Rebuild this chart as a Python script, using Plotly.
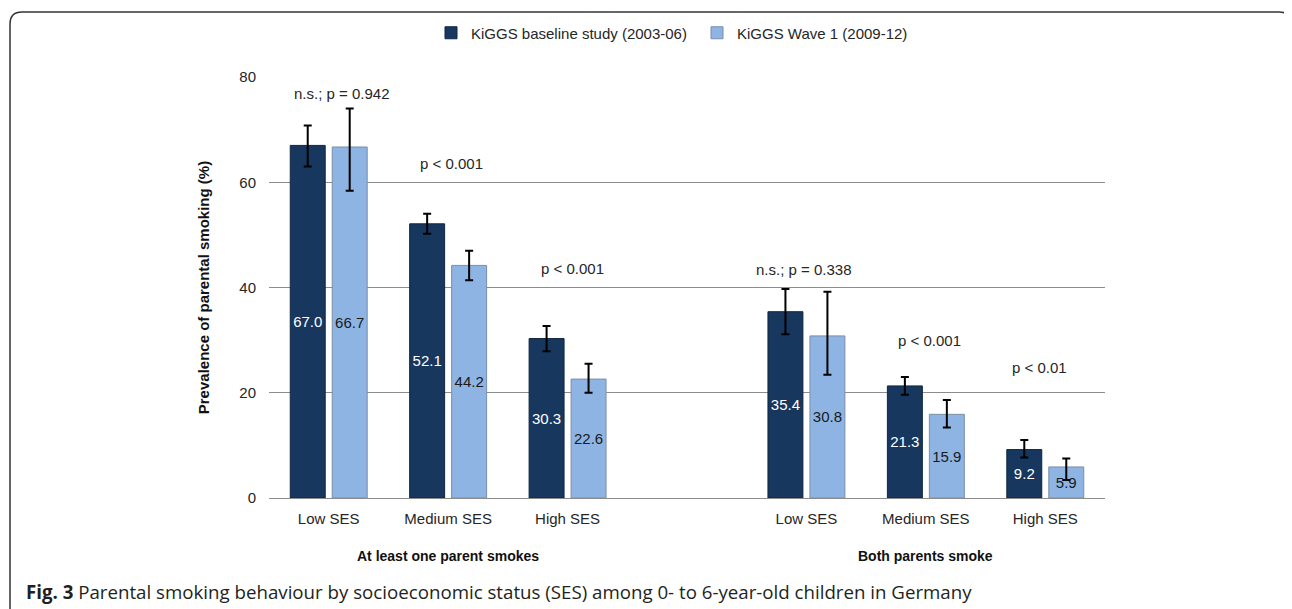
import plotly.graph_objects as go

# ---------------- data ----------------
ses_labels = ["Low SES", "Medium SES", "High SES"]
group_labels = ["At least one parent smokes", "Both parents smoke"]
series_names = ["KiGGS baseline study (2003-06)", "KiGGS Wave 1 (2009-12)"]

baseline = [67.0, 52.1, 30.3, 35.4, 21.3, 9.2]
baseline_lo = [63.0, 50.2, 27.9, 31.1, 19.6, 7.7]
baseline_hi = [70.8, 54.0, 32.7, 39.7, 23.0, 11.0]

wave1 = [66.7, 44.2, 22.6, 30.8, 15.9, 5.9]
wave1_lo = [58.4, 41.4, 20.0, 23.4, 13.4, 3.4]
wave1_hi = [74.0, 47.0, 25.5, 39.2, 18.6, 7.5]

p_labels = ["n.s.; p = 0.942", "p < 0.001", "p < 0.001",
            "n.s.; p = 0.338", "p < 0.001", "p < 0.01"]

y_ticks = [0, 20, 40, 60, 80]
caption_bold = "Fig. 3"
caption_text = ("Parental smoking behaviour by socioeconomic status (SES) "
                "among 0- to 6-year-old children in Germany")
y_title = "Prevalence of parental smoking (%)"

# ---------------- layout helpers ----------------
# category positions: 3 SES groups, an empty slot, 3 SES groups
xpos = [0, 1, 2, 4, 5, 6]
tick_text = ses_labels + ses_labels
group_x = [1, 5]
p_label_y = [76.8, 63.6, 43.6, 43.5, 29.9, 24.8]
p_label_xshift = [13, 3, 5, -2, 4, -6]

OFF = 8                      # page body margin of the html page
W_PX, H_PX = 1292 - OFF, 609 - OFF
PLOT_X0, PLOT_X1 = 269, 1105  # page pixels
PLOT_Y0, PLOT_Y1 = 77, 498
L = PLOT_X0 - OFF
T = PLOT_Y0 - OFF
plot_w = PLOT_X1 - PLOT_X0
plot_h = PLOT_Y1 - PLOT_Y0
R = W_PX - L - plot_w
B = H_PX - T - plot_h


def px_x(x):
    return (x - PLOT_X0) / plot_w


def px_y(y):
    return (PLOT_Y1 - y) / plot_h


DARK = "#17375E"
LIGHT = "#8DB4E2"
FONT = "Liberation Sans, Arial, sans-serif"

fig = go.Figure()


def err(vals, lo, hi):
    return dict(type="data", symmetric=False,
                array=[h - v for v, h in zip(vals, hi)],
                arrayminus=[v - l for v, l in zip(vals, lo)],
                color="black", thickness=2, width=4)


fig.add_trace(go.Bar(
    x=xpos, y=baseline, name=series_names[0],
    marker=dict(color=DARK, line=dict(color="#0f2742", width=1)),
    error_y=err(baseline, baseline_lo, baseline_hi),
    text=[f"{v:.1f}" for v in baseline], textposition="inside",
    insidetextanchor="middle", textangle=0,
    textfont=dict(color="white", size=15, family=FONT),
))
fig.add_trace(go.Bar(
    x=xpos, y=wave1, name=series_names[1],
    marker=dict(color=LIGHT, line=dict(color="#7a8ea8", width=1)),
    error_y=err(wave1, wave1_lo, wave1_hi),
    text=[f"{v:.1f}" for v in wave1], textposition="inside",
    insidetextanchor="middle", textangle=0,
    textfont=dict(color="#1a1a1a", size=15, family=FONT),
))

annotations = []
for xp, lab, yy, xs in zip(xpos, p_labels, p_label_y, p_label_xshift):
    annotations.append(dict(x=xp, y=yy, xref="x", yref="y", text=lab,
                            showarrow=False, xshift=xs,
                            font=dict(size=15, color="#262626", family=FONT)))
for gx, gl in zip(group_x, group_labels):
    annotations.append(dict(x=gx, y=px_y(556), xref="x", yref="paper",
                            text=f"<b>{gl}</b>", showarrow=False,
                            yanchor="middle",
                            font=dict(size=14, color="#111", family=FONT)))
annotations.append(dict(x=px_x(24), y=px_y(591), xref="paper", yref="paper",
                        xanchor="left", yanchor="middle", showarrow=False,
                        text=f"<b>{caption_bold}</b> {caption_text}",
                        font=dict(size=18.7, color="#231f20",
                                  family="Open Sans, Noto Sans, sans-serif")))

# rounded frame around the figure
x0, x1 = px_x(10), px_x(1291)
y0, y1 = px_y(12), px_y(640)
rx, ry = 12 / plot_w, 12 / plot_h
frame_path = (f"M {x0},{y1} L {x0},{y0 - ry} Q {x0},{y0} {x0 + rx},{y0} "
              f"L {x1 - rx},{y0} Q {x1},{y0} {x1},{y0 - ry} L {x1},{y1}")

fig.update_layout(
    width=W_PX, height=H_PX,
    margin=dict(l=L, r=R, t=T, b=B, autoexpand=False),
    paper_bgcolor="white", plot_bgcolor="white",
    font=dict(family=FONT, size=15, color="#262626"),
    barmode="group", bargap=0.297, bargroupgap=0.167,
    uniformtext=dict(minsize=15, mode="show"),
    showlegend=True,
    legend=dict(orientation="h", x=px_x(431), y=px_y(33),
                xanchor="left", yanchor="middle",
                font=dict(size=15, family=FONT, color="#262626"),
                entrywidth=221, entrywidthmode="pixels",
                bgcolor="rgba(0,0,0,0)"),
    annotations=annotations,
    shapes=[dict(type="path", xref="paper", yref="paper", path=frame_path,
                 line=dict(color="#333333", width=1.5))],
    xaxis=dict(range=[-0.5, 6.5], tickmode="array", tickvals=xpos,
               ticktext=tick_text, showgrid=False, zeroline=False,
               showline=False, ticks="", ticklabelstandoff=10,
               tickfont=dict(size=15, family=FONT, color="#262626")),
    yaxis=dict(range=[0, 80], tickmode="array", tickvals=y_ticks,
               showgrid=True, gridcolor="#8c8c8c", gridwidth=1,
               zeroline=True, zerolinecolor="#8c8c8c", zerolinewidth=1,
               showline=False, ticks="", ticklabelstandoff=12,
               tickfont=dict(size=15, family=FONT, color="#262626"),
               title=dict(text=f"<b>{y_title}</b>", standoff=26,
                          font=dict(size=15, family=FONT, color="#111"))),
)

fig.write_html("out.html")
